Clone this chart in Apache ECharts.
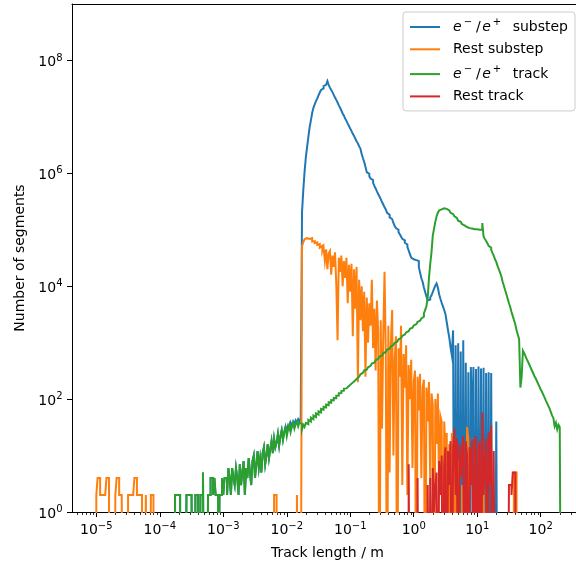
<!DOCTYPE html>
<html><head><meta charset="utf-8">
<script src="https://cdn.jsdelivr.net/npm/echarts@6/dist/echarts.min.js"></script>
<style>html,body{margin:0;padding:0;background:#fff}#c{width:576px;height:567px}</style>
</head><body><div id="c"></div>
<script>
// Logarithmic histogram bins: bin k spans 10^(binFirstExp + k*binWidthExp) .. 10^(binFirstExp + (k+1)*binWidthExp)
const binFirstExp = -5;
const binWidthExp = 0.02;

const seriesNames = ['e\u2212/e+ substep', 'Rest substep', 'e\u2212/e+ track', 'Rest track'];
const seriesColors = ['#1f77b4', '#ff7f0e', '#2ca02c', '#d62728'];

// ---- e-/e+ track ----
const eTrackStart = 62;
const eTrackCounts = [
  2, 2, 2, 2, 0, 0, 0, 0,
  0, 2, 2, 2, 2, 2, 0, 0, 2, 2,
  2, 0, 2, 2, 5, 0, 0, 0, 2, 2,
  4, 4, 2, 4, 2, 2, 0, 2, 2, 4,
  2, 4, 4, 2, 6, 4, 2, 6, 4, 3,
  6, 4, 2, 7, 3, 5, 8, 2, 6, 4,
  9, 5, 3, 8, 10, 4, 7, 12, 6, 9,
  5, 11, 14, 7, 10, 16, 9, 13, 18, 11,
  20, 14, 17, 24, 15, 22, 28, 19, 26, 32,
  22, 29, 35, 26, 33, 38, 30, 36, 40, 33,
  39, 36, 29, 35, 32, 38, 36, 43, 40, 47,
  44, 51, 48, 56, 53, 61, 58, 67, 65, 73,
  71, 80, 78, 88, 86, 96, 95, 105, 104, 115,
  116, 127, 128, 139, 141, 153, 155, 167, 171, 184,
  188, 202, 206, 221, 227, 243, 250, 267, 275, 293,
  302, 322, 333, 354, 366, 389, 402, 427, 443, 470,
  487, 517, 535, 567, 589, 623, 648, 685, 712, 752,
  783, 827, 861, 909, 947, 995, 1040, 1090, 1150, 1200,
  1260, 1320, 1390, 1450, 1520, 1600, 1670, 1760, 1840, 1930,
  2020, 2120, 2220, 2330, 2450, 2560, 2690, 2880, 3300, 3800,
  4400, 6300, 1.4e4, 2.5e4, 4.0e4, 7.9e4, 1.05e5, 1.38e5, 1.74e5, 2.0e5,
  2.2e5, 2.3e5, 2.35e5, 2.4e5, 2.4e5, 2.35e5, 2.3e5, 2.2e5, 2.1e5, 2.0e5,
  1.9e5, 1.82e5, 1.74e5, 1.62e5, 1.55e5, 1.45e5, 1.38e5, 1.32e5, 1.26e5, 1.2e5,
  1.15e5, 1.12e5, 1.1e5, 1.07e5, 1.05e5, 1.05e5, 1.02e5, 1.02e5, 1.02e5, 1.02e5,
  1.02e5, 1.0e5, 1.0e5, 1.0e5, 1.32e5, 7.6e4, 6.9e4, 6.3e4, 5.8e4, 5.2e4,
  4.8e4, 4.4e4, 3.9e4, 3.5e4, 3.0e4, 2.7e4, 2.3e4, 2.0e4, 1.74e4, 1.5e4,
  1.2e4, 1.02e4, 8.5e3, 7.2e3, 6.0e3, 5.0e3, 4.3e3, 3.5e3, 2.95e3, 2.5e3,
  2.1e3, 1.66e3, 1.38e3, 1.15e3, 160, 250, 720, 650, 575, 510,
  460, 410, 365, 325, 290, 257, 234, 209, 186, 166,
  148, 135, 120, 107, 95, 85, 76, 68, 59, 51,
  46, 33, 38, 29, 35, 32
];

// ---- e-/e+ substep ----
// below 10^-2 m every e-/e+ track is a single substep: the two histograms coincide
const eSubstepLowStart = 62;
const eSubstepLowCounts = eTrackCounts.slice(0, 150 - eTrackStart);
const eSubstepStart = 150;
const eSubstepCounts = [
  28, 34, 30, 38, 33, 40, 36, 42, 38, 44,
  40, 46, 2.0e5, 5.0e5, 1.05e6, 1.9e6, 2.9e6, 4.4e6, 6.5e6, 8.7e6,
  1.17e7, 1.45e7, 1.66e7, 1.9e7, 2.1e7, 2.4e7, 2.7e7, 3.0e7, 3.2e7, 3.5e7,
  3.7e7, 4.0e7, 4.3e7, 3.7e7, 3.3e7, 3.0e7, 2.75e7, 2.45e7, 2.2e7, 2.0e7,
  1.8e7, 1.6e7, 1.45e7, 1.3e7, 1.15e7, 1.05e7, 9.3e6, 8.5e6, 7.6e6, 6.9e6,
  6.2e6, 5.6e6, 5.0e6, 4.6e6, 4.1e6, 3.7e6, 3.4e6, 3.0e6, 2.75e6, 2.2e6,
  1.85e6, 1.6e6, 1.3e6, 1.05e6, 9.8e5, 8.9e5, 8.1e5, 7.6e5, 6.8e5, 6.0e5,
  5.4e5, 4.8e5, 4.3e5, 3.9e5, 3.5e5, 3.1e5, 2.8e5, 2.5e5, 2.3e5, 2.0e5,
  1.85e5, 1.66e5, 1.55e5, 1.45e5, 1.32e5, 1.17e5, 1.07e5, 1.0e5, 9.1e4, 8.3e4,
  7.6e4, 6.9e4, 6.5e4, 5.9e4, 5.5e4, 5.0e4, 4.3e4, 3.7e4, 3.2e4, 3.0e4,
  2.95e4, 2.9e4, 2.9e4, 2.8e4, 2.2e4, 1.74e4, 1.38e4, 1.2e4, 9.5e3, 7.9e3,
  6.6e3, 5.6e3, 5.8e3, 6.3e3, 6.9e3, 7.9e3, 9.1e3, 1.02e4, 1.12e4, 9.5e3,
  7.2e3, 6.0e3, 5.1e3, 4.4e3, 3.8e3, 3.2e3, 2.3e3, 1.66e3, 1.23e3, 830,
  600, 1650, 0, 900, 0, 980, 0, 700, 0, 1100,
  0, 440, 0, 300, 0, 370, 20, 370, 0, 340,
  0, 380, 0, 350, 0, 360, 0, 290, 0, 300,
  0, 290, 0, 0, 0, 40, 0
];

// ---- Rest substep : three runs of non-empty bins ----
const restSubstepStartA = 0;
const restSubstepCountsA = [
  2, 4, 4, 2, 2, 2, 2, 2, 4, 4,
  0, 0, 0, 0, 0, 2, 4, 4, 2, 2,
  2, 0, 0, 0, 0, 2, 2, 2, 2, 2,
  4, 4, 2, 2, 2, 2, 0, 0, 0, 2,
  0, 0, 0, 2, 2
];
const restSubstepStartB = 140;
const restSubstepCountsB = [2, 2];
const restSubstepStartC = 158;
const restSubstepCountsC = [
  2, 0, 0, 0,
  5.2e4, 6.0e4, 6.8e4, 7.1e4, 7.4e4, 6.9e4, 6.6e4, 7.1e4,
  6.2e4, 6.3e4, 5.8e4, 6.0e4, 5.4e4, 5.6e4, 4.8e4, 5.2e4, 4.2e4, 4.9e4,
  2.8e4, 4.5e4, 2.0e4, 3.8e4, 4.2e4, 1.6e4, 3.5e4, 2.2e4, 4.0e4, 1.1e4,
  1.1e3, 3.2e4, 1.8e4, 3.5e4, 1.0e4, 2.8e4, 1.4e4, 3.2e4, 5.0e3, 2.4e4,
  8.0e3, 2.5e4, 1.3e3, 2.0e4, 4.0e3, 2.2e4, 200, 1.3e4, 2.5e3, 1.0e4,
  1.6e3, 8.0e3, 250, 6.3e3, 1.0e3, 5.0e3, 2.0e3, 1.3e4, 800, 4.0e3,
  320, 5.6e3, 1.6e3, 0, 2.5e3, 30, 1.3e3, 1.8e4, 630, 0,
  2.0e3, 5, 1.0e3, 3.8e3, 10, 500, 1.3e3, 0, 800, 250,
  2.0e3, 3, 630, 160, 900, 2, 400, 100, 500, 6,
  200, 320, 0, 250, 63, 280, 4, 160, 220, 0,
  160, 40, 200, 3, 126, 80, 0, 100, 16, 126,
  2, 50, 40, 0, 40, 12, 25, 0, 16, 0,
  25, 0, 12, 2, 0, 8, 0, 0, 3, 0,
  0, 0, 32, 20, 0, 0, 0, 0, 0, 4,
  0, 0, 0, 0, 0, 5, 0, 0, 0, 0,
  0, 0, 0, 0, 0, 0, 0, 0, 0, 0,
  0, 0, 0, 0, 0, 0, 0, 0, 0, 5,
  5
];

// ---- Rest track ----
const restTrackStart = 246;
const restTrackCounts = [
  7, 0, 0, 0, 0, 0, 0, 4, 0, 0,
  0, 0, 0, 0, 0, 3, 0, 4, 0, 6,
  1, 3, 5, 0, 8, 2, 10, 0, 7, 14,
  0, 12, 3, 18, 0, 14, 30, 2, 20, 0,
  16, 4, 12, 22, 0, 18, 10, 0, 14, 3,
  20, 0, 16, 22, 0, 12, 18, 0, 58, 2,
  8, 20, 0, 26, 3, 34, 0, 12, 0, 0,
  0, 0, 0, 0, 0, 0, 0, 0, 0, 3,
  3, 2, 5, 5
];

const xTickValues = [1e-5, 1e-4, 1e-3, 1e-2, 1e-1, 1, 10, 100];
const yTickValues = [1, 1e2, 1e4, 1e6, 1e8];
// visible x window (the axes continue a little past the right edge of the picture)
const xLimitsExp = [-5.383, 2.556];
const yLimits = [1, 1e9];

// minor ticks 2..9 x 10^k inside the x range
const xMinorTickValues = [];
for (let e = -6; e <= 2; e++) for (let m = 2; m <= 9; m++) {
  const v = m * Math.pow(10, e);
  if (Math.log10(v) > xLimitsExp[0] && Math.log10(v) < xLimitsExp[1]) xMinorTickValues.push(v);
}

function edge(k) { return Math.pow(10, binFirstExp + k * binWidthExp); }
// matplotlib-like step outline of a histogram run; empty bins fall below the axis (clipped)
function stepPoints(start, counts) {
  const below = 1e-3;
  const pts = [[edge(start), below]];
  counts.forEach(function (c, j) {
    const v = c > 0 ? c : below;
    pts.push([edge(start + j), v]);
    pts.push([edge(start + j + 1), v]);
  });
  pts.push([edge(start + counts.length), below]);
  return pts;
}

const seriesData = [
  stepPoints(eSubstepLowStart, eSubstepLowCounts.concat(eSubstepCounts)),
  stepPoints(restSubstepStartA, restSubstepCountsA)
    .concat(stepPoints(restSubstepStartB, restSubstepCountsB))
    .concat(stepPoints(restSubstepStartC, restSubstepCountsC)),
  stepPoints(eTrackStart, eTrackCounts),
  stepPoints(restTrackStart, restTrackCounts)
];

function expText(v) { return String(Math.round(Math.log10(v))).replace('-', '\u2212'); }
const FONT = 'DejaVu Sans';

const axisRich = {
  b: { fontSize: 14, fontFamily: FONT, color: '#000', lineHeight: 19, verticalAlign: 'middle' },
  s: { fontSize: 10, fontFamily: FONT, color: '#000', lineHeight: 10, verticalAlign: 'top' }
};
const xMinVal = Math.pow(10, xLimitsExp[0]);
const xMaxVal = Math.pow(10, xLimitsExp[1]);

const chart = echarts.init(document.getElementById('c'), null, { renderer: 'canvas' });
chart.setOption({
  animation: false,
  backgroundColor: '#fff',
  textStyle: { fontFamily: FONT },
  grid: { left: 72, right: 0, top: 4, bottom: 55, show: false },
  xAxis: [{
    type: 'log', logBase: 10, position: 'bottom',
    min: xMinVal, max: xMaxVal,
    name: 'Track length / m', nameLocation: 'middle', nameGap: 34,
    nameTextStyle: { fontSize: 14, color: '#000', fontFamily: FONT, padding: [0, 0, 0, 7] },
    axisLine: { show: true, onZero: false, lineStyle: { color: '#000', width: 1 } },
    axisTick: { show: true, length: 5, lineStyle: { color: '#000', width: 1 }, customValues: xTickValues },
    axisLabel: { show: true, margin: 9, customValues: xTickValues,
      formatter: function (v) { return '{b|10}{s|' + expText(v) + '}'; }, rich: axisRich },
    splitLine: { show: false }, minorTick: { show: false }
  }, {
    type: 'log', logBase: 10, position: 'bottom', gridIndex: 0,
    min: xMinVal, max: xMaxVal,
    axisLine: { show: false },
    axisTick: { show: true, length: 3, lineStyle: { color: '#000', width: 0.8 }, customValues: xMinorTickValues },
    axisLabel: { show: false },
    splitLine: { show: false }
  }, {
    type: 'log', logBase: 10, position: 'top', gridIndex: 0,
    min: xMinVal, max: xMaxVal,
    axisLine: { show: true, onZero: false, lineStyle: { color: '#000', width: 1 } },
    axisTick: { show: false }, axisLabel: { show: false }, splitLine: { show: false }
  }],
  yAxis: {
    type: 'log', logBase: 10, min: yLimits[0], max: yLimits[1],
    name: 'Number of segments', nameLocation: 'middle', nameGap: 45,
    nameTextStyle: { fontSize: 14, color: '#000', fontFamily: FONT },
    axisLine: { show: true, onZero: false, lineStyle: { color: '#000', width: 1 } },
    axisTick: { show: true, length: 5, lineStyle: { color: '#000', width: 1 }, customValues: yTickValues },
    axisLabel: { show: true, margin: 9.5, customValues: yTickValues, padding: [4, 0, 0, 0],
      formatter: function (v) { return '{b|10}{s|' + expText(v) + '}'; }, rich: axisRich },
    splitLine: { show: false }, minorTick: { show: false }
  },
  legend: {
    orient: 'vertical', right: 1, top: 12,
    padding: [5.5, 7, 7.5, 6],
    itemWidth: 30, itemHeight: 14, itemGap: 8.3,
    itemStyle: { opacity: 0, borderWidth: 0 },
    backgroundColor: 'rgba(255,255,255,0.8)', borderColor: '#cccccc', borderWidth: 1, borderRadius: 3,
    data: seriesNames,
    textStyle: { fontSize: 14, fontFamily: FONT, color: '#000', padding: [0, 0, 0, 8],
      rich: {
        it: { fontSize: 14, fontFamily: FONT, fontStyle: 'italic', color: '#000', lineHeight: 19, verticalAlign: 'middle' },
        sup: { fontSize: 10, fontFamily: FONT, color: '#000', lineHeight: 10, verticalAlign: 'top', padding: [0, 1, 0, 2] },
        sl: { fontSize: 14, fontFamily: FONT, color: '#000', lineHeight: 19, verticalAlign: 'middle', padding: [0, 1.5, 0, 3] },
        nm: { fontSize: 14, fontFamily: FONT, color: '#000', lineHeight: 19, verticalAlign: 'middle', padding: [0, 0, 0, 6] },
        n: { fontSize: 14, fontFamily: FONT, color: '#000', lineHeight: 19, verticalAlign: 'middle' }
      } },
    formatter: function (name) {
      if (name === seriesNames[0]) return '{it|e}{sup|\u2212}{sl|/}{it|e}{sup|+}{nm| substep}';
      if (name === seriesNames[2]) return '{it|e}{sup|\u2212}{sl|/}{it|e}{sup|+}{nm| track}';
      return '{n|' + name + '}';
    }
  },
  series: seriesNames.map(function (nm, i) {
    return {
      name: nm, type: 'line', xAxisIndex: 0, yAxisIndex: 0,
      data: seriesData[i], showSymbol: false, symbol: 'none', clip: true,
      color: seriesColors[i],
      lineStyle: { color: seriesColors[i], width: 2, join: 'miter' },
      emphasis: { disabled: true }
    };
  })
});
</script></body></html>
